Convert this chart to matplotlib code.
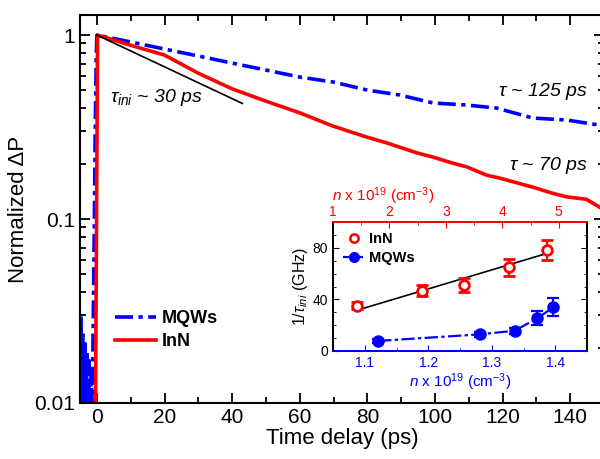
import numpy as np
import matplotlib
matplotlib.use("Agg")
import matplotlib.pyplot as plt
from matplotlib.lines import Line2D
from matplotlib.ticker import MultipleLocator, LogLocator, NullFormatter, FixedLocator

plt.rcParams['font.family'] = ['Liberation Sans', 'DejaVu Sans']
plt.rcParams['mathtext.fontset'] = 'custom'
plt.rcParams['mathtext.rm'] = 'Liberation Sans'
plt.rcParams['mathtext.it'] = 'Liberation Sans:italic'

# ---- main panel data ----
mqw_t = [-5.0, -4.7, -4.4, -4.1, -3.8, -3.5, -3.2, -2.9, -2.6, -2.3, -2.0, -1.7, -1.4,
         -1.1, -0.8, -0.5, -0.2, 0.0, 10, 20, 30, 40, 50, 60, 70, 80, 89.6, 99.5, 109,
         118.2, 128.9, 139, 148.7, 152]
mqw_v = [0.006, 0.030, 0.008, 0.024, 0.006, 0.021, 0.009, 0.019, 0.006, 0.017, 0.008,
         0.015, 0.010, 0.025, 0.08, 0.3, 0.75, 1.0, 0.917, 0.839, 0.769, 0.704, 0.645,
         0.591, 0.555, 0.502, 0.472, 0.427, 0.417, 0.401, 0.354, 0.345, 0.324, 0.32]

inn_t = [-0.5, 0.2, 10, 20, 30, 40, 50, 60.1, 69.8, 79.8, 85.8, 94.6, 99.4, 105.3, 109.4,
         115.3, 119.1, 128.9, 134.8, 138.9, 144.8, 148.7, 152]
inn_v = [0.005, 1.0, 0.88, 0.778, 0.62, 0.51, 0.437, 0.377, 0.320, 0.279, 0.259, 0.229,
         0.217, 0.201, 0.192, 0.173, 0.167, 0.149, 0.138, 0.132, 0.128, 0.116, 0.105]

tini_t = [0.0, 43.0]
tini_v = [1.0, 0.425]

# ---- inset data ----
inn_n = [1.43, 2.58, 3.32, 4.12, 4.79]          # top axis (x 10^19 cm^-3)
inn_rate = [35.1, 46.8, 51.0, 65.1, 78.4]
inn_err = [2.9, 4.3, 5.3, 6.6, 7.7]
fit_n = [1.51, 4.80]
fit_rate = [32.7, 75.8]

mqw_n = [1.121, 1.281, 1.336, 1.372, 1.397]     # bottom axis (x 10^19 cm^-3)
mqw_rate = [7.8, 12.9, 15.7, 25.4, 34.0]
mqw_err = [1.5, 2.0, 2.5, 5.6, 7.2]

blue = '#0000ff'
red = '#ff0000'
dashdot = (0, (5, 1.5, 1.2, 1.5))

fig = plt.figure(figsize=(6.0, 4.59), dpi=100)
ax = fig.add_axes([80/600, 56/459, 524/600, (403-15)/459])

ax.plot(mqw_t, mqw_v, color=blue, lw=2.6, ls=dashdot, label='MQWs')
ax.plot(inn_t, inn_v, color=red, lw=2.6, label='InN')
ax.plot(tini_t, tini_v, color='black', lw=1.2)

ax.set_yscale('log')
ax.set_xlim(-5, 150)
ax.set_ylim(0.01, 1.285)
ax.xaxis.set_major_locator(MultipleLocator(20))
ax.xaxis.set_minor_locator(MultipleLocator(10))
ax.yaxis.set_major_locator(FixedLocator([0.01, 0.1, 1]))
ax.yaxis.set_minor_locator(LogLocator(base=10, subs=np.arange(2, 10)))
ax.yaxis.set_minor_formatter(NullFormatter())
ax.set_yticklabels(['0.01', '0.1', '1'])
ax.tick_params(which='both', direction='in', top=True, right=True, labelsize=15, width=1.3)
ax.tick_params(which='major', length=7)
ax.tick_params(which='minor', length=4)
for s in ax.spines.values():
    s.set_linewidth(1.5)
ax.set_xlabel('Time delay (ps)', fontsize=16, labelpad=1)
ax.set_ylabel('Normalized ΔP', fontsize=16, labelpad=4)

leg = ax.legend(loc='lower left', bbox_to_anchor=(0.035, 0.095), frameon=False,
                prop={'weight': 'bold', 'size': 13}, handlelength=2.3, handletextpad=0.3,
                labelspacing=0.3)

ax.text(110/600, 1 - 97/459, r'$\tau_{ini}$ ~ 30 ps', transform=fig.transFigure,
        fontsize=14, style='italic', va='center', ha='left')
ax.text(588/600, 1 - 92/459, r'$\tau$ ~ 125 ps', transform=fig.transFigure,
        fontsize=14, style='italic', va='center', ha='right')
ax.text(588/600, 1 - 165/459, r'$\tau$ ~ 70 ps', transform=fig.transFigure,
        fontsize=14, style='italic', va='center', ha='right')

# ---- inset ----
ins = fig.add_axes([333/600, 1 - 351/459, 254/600, 129/459])
ins.set_xlim(1.05, 1.45)
ins.set_ylim(0, 100)
top = ins.twiny()
top.set_xlim(1, 5.5)

ins.errorbar(mqw_n, mqw_rate, yerr=mqw_err, color=blue, marker='o', ms=8,
             lw=1.6, ls=(0, (6, 1.5, 1.5, 1.5)), elinewidth=1.6, capsize=4,
             capthick=1.6)
top.plot(fit_n, fit_rate, color='black', lw=1.2)
top.errorbar(inn_n, inn_rate, yerr=inn_err, color=red, marker='o', ms=7,
             mfc='white', mew=2, ls='none', elinewidth=1.6, capsize=4, capthick=1.6)

ins.yaxis.set_major_locator(FixedLocator([0, 40, 80]))
ins.yaxis.set_minor_locator(MultipleLocator(10))
ins.xaxis.set_minor_locator(MultipleLocator(0.05))
top.xaxis.set_major_locator(MultipleLocator(1))
top.xaxis.set_minor_locator(MultipleLocator(0.5))

ins.tick_params(which='both', direction='in', right=True, labelsize=10)
ins.tick_params(axis='x', which='both', colors=blue, labelcolor=blue)
ins.tick_params(which='major', length=4)
ins.tick_params(which='minor', length=2)
top.tick_params(which='both', direction='in', colors=red, labelsize=10, pad=2)
top.tick_params(which='major', length=4)
top.tick_params(which='minor', length=2)
ins.set_xticks([1.1, 1.2, 1.3, 1.4])
ins.set_xticklabels(['1.1', '1.2', '1.3', '1.4'])

for a in (ins, top):
    a.spines['bottom'].set_color(blue)
    a.spines['top'].set_color(red)
    a.spines['left'].set_color('black')
    a.spines['right'].set_color('black')
    for s in a.spines.values():
        s.set_linewidth(1.3)

ins.set_xlabel(r'$n$ x 10$^{19}$ (cm$^{-3}$)', color=blue, fontsize=11, labelpad=1)
top.set_xlabel(r'$n$ x 10$^{19}$ (cm$^{-3}$)', color=red, fontsize=11)
top.xaxis.label.set_horizontalalignment('left')
top.xaxis.set_label_coords(-0.005, 1.165)
ins.set_ylabel(r'1/$\tau_{ini}$ (GHz)', fontsize=11.5, labelpad=2)

h_inn = Line2D([], [], color=red, marker='o', ms=6, mfc='white', mew=1.8, ls='none')
h_mqw = Line2D([], [], color=blue, marker='o', ms=7, lw=1.6, ls=(0, (6, 1.5, 1.5, 1.5)))
top.legend([h_inn, h_mqw], ['InN', 'MQWs'], loc='upper left', frameon=False,
           prop={'weight': 'bold', 'size': 10.5}, handlelength=1.5, handletextpad=0.3,
           labelspacing=0.35, borderaxespad=0.3, bbox_to_anchor=(0.0, 1.0))

fig.savefig('out.png', dpi=100)
